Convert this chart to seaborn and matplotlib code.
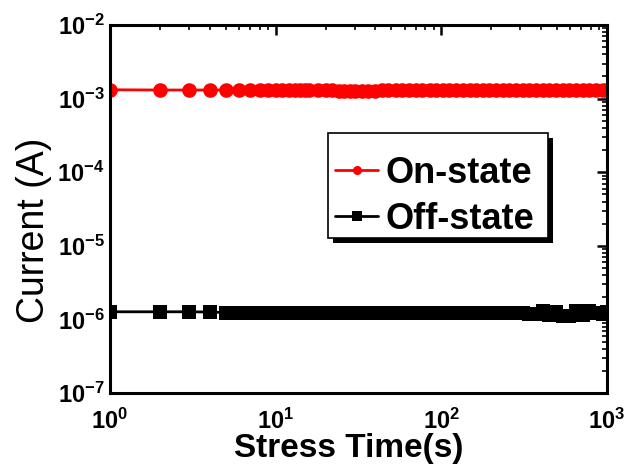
import matplotlib
matplotlib.use("Agg")
import numpy as np
import pandas as pd
import seaborn as sns
import matplotlib.pyplot as plt
from matplotlib.ticker import LogLocator, FuncFormatter, NullFormatter
from matplotlib.patches import Rectangle
from matplotlib.transforms import offset_copy

# ---- data ----
time_s = [1, 2, 3, 4, 5, 6, 7, 8, 9, 10,
          11, 12, 13, 14, 15, 16, 18, 20, 22, 24,
          26, 28, 30, 33, 36, 40, 44, 48, 53, 58,
          64, 70, 77, 85, 93, 102, 112, 123, 135, 148,
          162, 178, 195, 214, 235, 258, 283, 310, 340, 373,
          409, 449, 492, 540, 592, 650, 713, 782, 858, 941,
          1000]
on_current_mA = [1.32, 1.31, 1.31, 1.31, 1.31, 1.31, 1.31, 1.31, 1.31, 1.31,
                 1.31, 1.31, 1.31, 1.31, 1.31, 1.31, 1.30, 1.30, 1.30, 1.29,
                 1.29, 1.28, 1.28, 1.28, 1.29, 1.29, 1.30, 1.30, 1.30, 1.31,
                 1.31, 1.31, 1.31, 1.31, 1.31, 1.31, 1.31, 1.31, 1.31, 1.31,
                 1.31, 1.31, 1.31, 1.31, 1.31, 1.31, 1.31, 1.31, 1.31, 1.31,
                 1.31, 1.31, 1.31, 1.31, 1.31, 1.31, 1.31, 1.31, 1.31, 1.31,
                 1.31]
off_current_uA = [1.27, 1.27, 1.27, 1.26, 1.24, 1.23, 1.23, 1.23, 1.23, 1.22,
                  1.22, 1.22, 1.22, 1.22, 1.22, 1.22, 1.22, 1.22, 1.22, 1.22,
                  1.22, 1.22, 1.22, 1.22, 1.22, 1.22, 1.22, 1.22, 1.22, 1.22,
                  1.22, 1.22, 1.21, 1.21, 1.21, 1.21, 1.21, 1.21, 1.21, 1.21,
                  1.21, 1.21, 1.21, 1.21, 1.21, 1.21, 1.21, 1.21, 1.20, 1.18,
                  1.30, 1.14, 1.28, 1.13, 1.12, 1.30, 1.16, 1.30, 1.22, 1.18,
                  1.25]
series_names = ["On-state", "Off-state"]
y_ticks = [1e-7, 1e-6, 1e-5, 1e-4, 1e-3, 1e-2]
x_ticks = [1, 10, 100, 1000]

df = pd.DataFrame({
    "time": time_s * 2,
    "current": [v * 1e-3 for v in on_current_mA] + [v * 1e-6 for v in off_current_uA],
    "state": [series_names[0]] * len(time_s) + [series_names[1]] * len(time_s),
})

sns.set_style("white")
plt.rcParams["font.family"] = ["Liberation Sans", "DejaVu Sans"]
plt.rcParams["text.color"] = "black"
plt.rcParams["axes.labelcolor"] = "black"
plt.rcParams["xtick.color"] = "black"
plt.rcParams["ytick.color"] = "black"
plt.rcParams["mathtext.fontset"] = "custom"
plt.rcParams["mathtext.rm"] = "Liberation Sans:bold"
plt.rcParams["mathtext.bf"] = "Liberation Sans:bold"
plt.rcParams["mathtext.it"] = "Liberation Sans:bold"

fig = plt.figure(figsize=(6.31, 4.69), dpi=100)
ax = fig.add_axes([0.1743, 0.162, 0.7876, 0.7846])

sns.lineplot(data=df[df.state == "On-state"], x="time", y="current", ax=ax,
             color="#ff0000", marker="o", markersize=10.5, markeredgewidth=0,
             linewidth=2, label="On-state", sort=False)
sns.lineplot(data=df[df.state == "Off-state"], x="time", y="current", ax=ax,
             color="black", marker="s", markersize=10, markeredgewidth=0,
             linewidth=2, label="Off-state", sort=False)

ax.set_xscale("log")
ax.set_yscale("log")
ax.set_xlim(1, 1000)
ax.set_ylim(1e-7, 1e-2)
ax.set_xticks(x_ticks)
ax.set_yticks(y_ticks)

def fmt(v, pos):
    e = int(round(np.log10(v)))
    return r"$\mathbf{10^{%d}}$" % e

ax.xaxis.set_major_formatter(FuncFormatter(fmt))
ax.yaxis.set_major_formatter(FuncFormatter(fmt))
ax.xaxis.set_minor_locator(LogLocator(base=10, subs=np.arange(2, 10), numticks=20))
ax.yaxis.set_minor_locator(LogLocator(base=10, subs=np.arange(2, 10), numticks=20))
ax.xaxis.set_minor_formatter(NullFormatter())
ax.yaxis.set_minor_formatter(NullFormatter())

ax.tick_params(which="both", direction="in", top=True, right=True, colors="black")
ax.tick_params(which="major", length=7, width=1.8, labelsize=17)
ax.tick_params(axis="x", which="major", pad=11)
ax.tick_params(axis="y", which="major", pad=4)
ax.tick_params(which="minor", length=3.5, width=1.2)

for s in ax.spines.values():
    s.set_linewidth(2.2)
    s.set_color("black")

ax.set_xlabel("Stress Time(s)", fontsize=24, fontweight="bold", labelpad=0)
ax.set_ylabel("Current (A)", fontsize=27, fontweight="normal", labelpad=4)
ax.xaxis.label.set_x(0.481)
ax.yaxis.label.set_y(0.443)

# legend box (frame + solid drop shadow) at the reference location
box = (0.4386, 0.4212, 0.4427, 0.2853)  # x0, y0, w, h in axes fraction
shadow_tr = offset_copy(ax.transAxes, fig=fig, x=5, y=-5, units="dots")
ax.add_patch(Rectangle(box[:2], box[2], box[3], transform=shadow_tr,
                       facecolor="black", edgecolor="none", zorder=4.8, clip_on=False))
ax.add_patch(Rectangle(box[:2], box[2], box[3], transform=ax.transAxes,
                       facecolor="white", edgecolor="black", linewidth=1.2,
                       zorder=4.9, clip_on=False))

leg = ax.legend(loc="upper left", bbox_to_anchor=(0.4527, 0.645), borderaxespad=0,
                prop={"size": 26, "weight": "bold"}, frameon=False,
                handlelength=1.2, handletextpad=0.2, borderpad=0,
                labelspacing=0.3)
leg.set_zorder(5)
for h in leg.legend_handles:
    h.set_markersize(6.5)

fig.savefig("out.png", dpi=100)
